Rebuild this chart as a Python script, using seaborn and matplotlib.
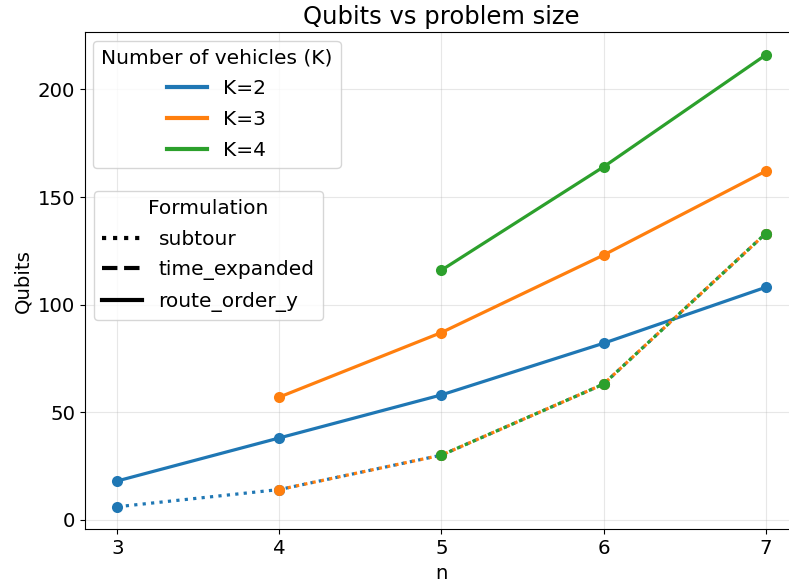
import numpy as np
import pandas as pd
import seaborn as sns
import matplotlib
matplotlib.use("Agg")
import matplotlib.pyplot as plt
from matplotlib.lines import Line2D

# Qubit counts per formulation and number of vehicles
n_k2 = [3, 4, 5, 6, 7]
n_k3 = [4, 5, 6, 7]
n_k4 = [5, 6, 7]

route_k2 = [18, 38, 58, 82, 108]
route_k3 = [57, 87, 123, 162]
route_k4 = [116, 164, 216]

subtour_k2 = [6, 14, 30, 63, 133]
subtour_k3 = [14, 30, 63, 133]
subtour_k4 = [30, 63, 133]

vehicles = ["K=2", "K=3", "K=4"]
formulations = ["subtour", "time_expanded", "route_order_y"]
palette = {"K=2": "#1f77b4", "K=3": "#ff7f0e", "K=4": "#2ca02c"}
linestyles = {"subtour": ":", "time_expanded": "--", "route_order_y": "-"}

rows = []
for k, ns, vals in [("K=2", n_k2, subtour_k2), ("K=3", n_k3, subtour_k3), ("K=4", n_k4, subtour_k4)]:
    rows += [dict(n=a, qubits=b, K=k, formulation="subtour") for a, b in zip(ns, vals)]
for k, ns, vals in [("K=2", n_k2, route_k2), ("K=3", n_k3, route_k3), ("K=4", n_k4, route_k4)]:
    rows += [dict(n=a, qubits=b, K=k, formulation="route_order_y") for a, b in zip(ns, vals)]
df = pd.DataFrame(rows)

plt.rcParams["font.family"] = ["DejaVu Sans"]
fig = plt.figure(figsize=(7.89, 5.88), dpi=100)
ax = fig.add_axes([0.1077, 0.0998, 0.9037, 0.845])

for form in ["route_order_y", "subtour"]:
    for k in vehicles:
        sub = df[(df.K == k) & (df.formulation == form)]
        sns.lineplot(data=sub, x="n", y="qubits", ax=ax, color=palette[k],
                     linestyle=linestyles[form], marker="o", markersize=8,
                     markeredgewidth=0, linewidth=2.3, legend=False)

ax.set_title("Qubits vs problem size", fontsize=17.5)
ax.set_xlabel("n", fontsize=14.2)
ax.set_ylabel("Qubits", fontsize=14.2)
ax.set_xticks([3, 4, 5, 6, 7])
ax.tick_params(labelsize=14.2)
ax.grid(True, alpha=0.3)
ax.spines["right"].set_visible(False)

k_handles = [Line2D([0], [0], color=palette[k], lw=3) for k in vehicles]
leg1 = ax.legend(k_handles, vehicles, title="Number of vehicles (K)", loc="upper left",
                 fontsize=14.5, title_fontsize=14.5, borderaxespad=0.4, labelspacing=0.58)
ax.add_artist(leg1)
f_handles = [Line2D([0], [0], color="black", lw=3, linestyle=linestyles[f]) for f in formulations]
ax.legend(f_handles, formulations, title="Formulation", loc="upper left",
          bbox_to_anchor=(0, 0.699), fontsize=14.5, title_fontsize=14.5,
          borderaxespad=0.45, labelspacing=0.58)

fig.savefig("out.png", dpi=100)
